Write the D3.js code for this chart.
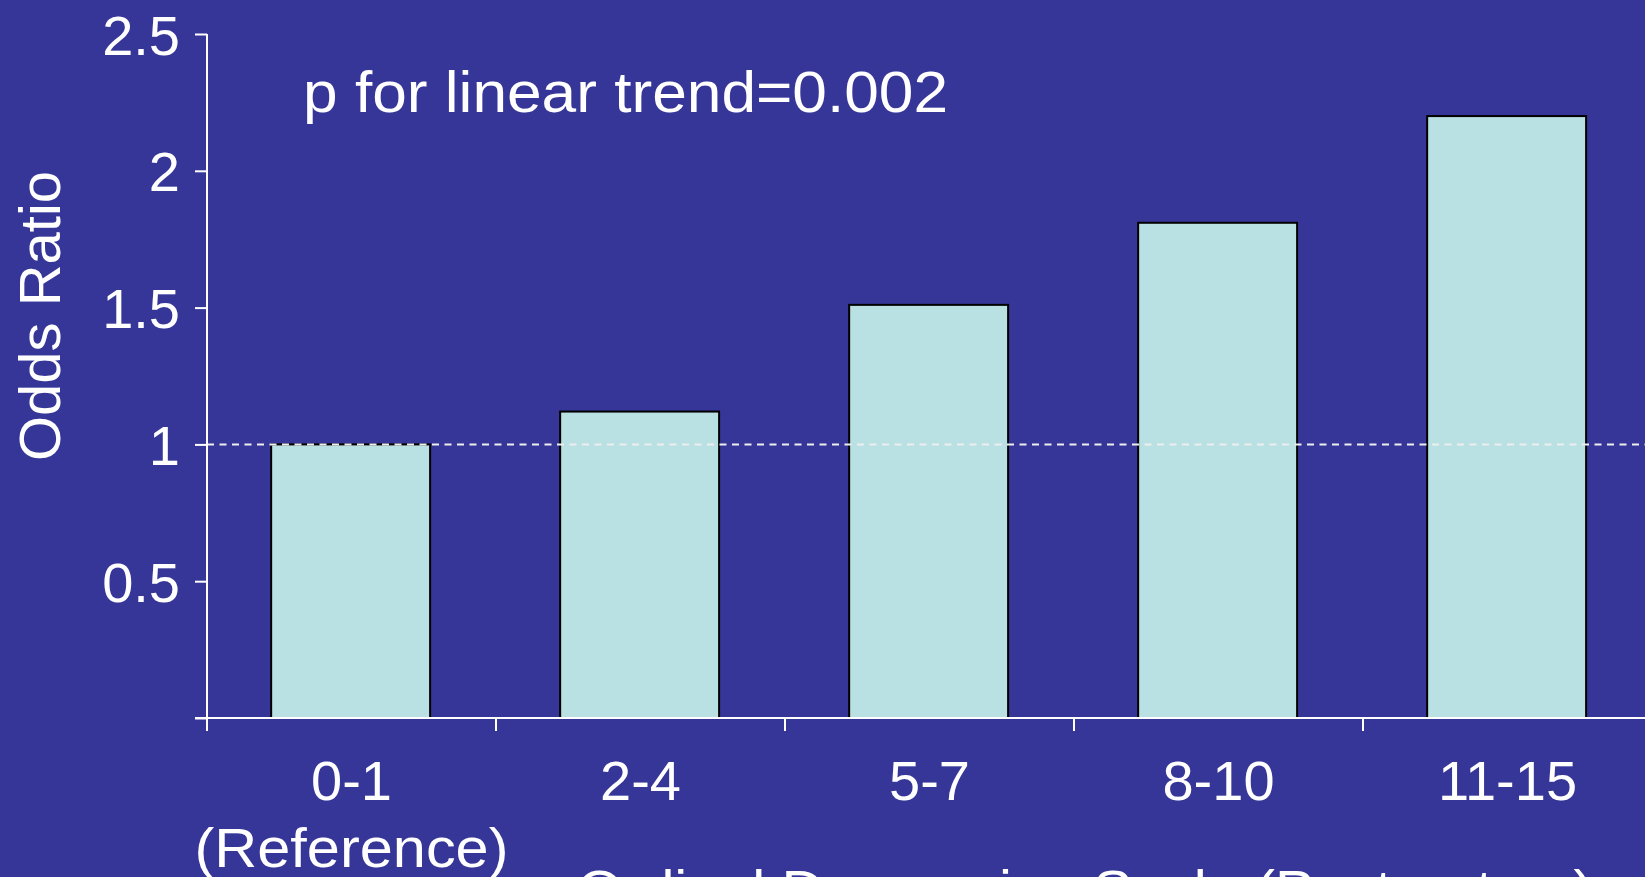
<!DOCTYPE html>
<html>
<head>
<meta charset="utf-8">
<script src="https://cdn.jsdelivr.net/npm/d3@7"></script>
<style>
  html, body { margin: 0; padding: 0; background: #363699; overflow: hidden; }
  svg { display: block; }
  text { font-family: "Liberation Sans", Arial, sans-serif; fill: #ffffff; }
</style>
</head>
<body>
<svg id="chart" width="1645" height="877"></svg>
<script>
// Odds ratio by postpartum depression score category
const categories = ["0-1", "2-4", "5-7", "8-10", "11-15"];
const oddsRatios = [1.0, 1.12, 1.51, 1.81, 2.2];
const subLabels = ["(Reference)", "", "", "", ""];
const yTicks = [0, 0.5, 1, 1.5, 2, 2.5];
const referenceValue = 1;
const trendNote = "p for linear trend=0.002";
const yTitle = "Odds Ratio";
const xTitle = "Ordinal Depression Scale (Postpartum)";

const W = 1645, H = 877;
const plotLeft = 207, plotRight = 1652, plotTop = 34, plotBottom = 718;

const svg = d3.select("#chart");
svg.append("rect").attr("width", W).attr("height", H).attr("fill", "#363699");

const x = d3.scaleBand().domain(categories).range([plotLeft, plotRight]).padding(0);
const y = d3.scaleLinear().domain([0, 2.5]).range([plotBottom, plotTop]);

// bars
const bw = x.bandwidth();
svg.append("g").selectAll("rect")
  .data(categories)
  .join("rect")
  .attr("x", (d) => x(d) + bw * 0.222)
  .attr("width", bw * 0.55)
  .attr("y", (d, i) => y(oddsRatios[i]))
  .attr("height", (d, i) => y(0) - y(oddsRatios[i]))
  .attr("fill", "#b9e0e2")
  .attr("stroke", "#000000")
  .attr("stroke-width", 2);

// dashed reference line at OR = 1
svg.append("line")
  .attr("x1", plotLeft).attr("x2", W)
  .attr("y1", y(referenceValue)).attr("y2", y(referenceValue))
  .attr("stroke", "#eeeeee")
  .attr("stroke-width", 2)
  .attr("stroke-dasharray", "7,5.5");

// y axis
const yAxis = svg.append("g")
  .attr("transform", `translate(${plotLeft},0)`)
  .call(d3.axisLeft(y).tickValues(yTicks).tickSize(12).tickPadding(15)
    .tickFormat((d) => d === 0 ? "" : d3.format("~g")(d)));
yAxis.select(".domain").remove();
yAxis.append("line")
  .attr("x1", 0).attr("x2", 0).attr("y1", plotTop).attr("y2", plotBottom)
  .attr("stroke", "#ffffff").attr("stroke-width", 2);
yAxis.selectAll(".tick line").attr("stroke", "#ffffff").attr("stroke-width", 2);
yAxis.selectAll(".tick text")
  .attr("fill", "#ffffff")
  .style("font-family", "'Liberation Sans', Arial, sans-serif")
  .style("font-size", "56px")
  .attr("dy", "0.36em");

// x axis: baseline, boundary ticks and category labels
const xAxis = svg.append("g").attr("transform", `translate(0,${plotBottom})`);
xAxis.append("line")
  .attr("x1", plotLeft - 12).attr("x2", W)
  .attr("y1", 0).attr("y2", 0)
  .attr("stroke", "#ffffff").attr("stroke-width", 2);
xAxis.selectAll("line.tk")
  .data(categories)
  .join("line")
  .attr("class", "tk")
  .attr("x1", (d) => x(d)).attr("x2", (d) => x(d))
  .attr("y1", 0).attr("y2", 13)
  .attr("stroke", "#ffffff").attr("stroke-width", 2);
xAxis.selectAll("text.cat")
  .data(categories)
  .join("text")
  .attr("class", "cat")
  .attr("x", (d) => x(d) + bw / 2)
  .attr("y", 82)
  .attr("text-anchor", "middle")
  .style("font-size", "56px")
  .text((d) => d);
xAxis.selectAll("text.sub")
  .data(categories.filter((d, i) => subLabels[i]))
  .join("text")
  .attr("class", "sub")
  .attr("x", (d) => x(d) + bw / 2)
  .attr("y", 149)
  .attr("text-anchor", "middle")
  .attr("textLength", 314)
  .attr("lengthAdjust", "spacingAndGlyphs")
  .style("font-size", "55px")
  .text((d) => subLabels[categories.indexOf(d)]);

// axis titles
svg.append("text")
  .attr("transform", `translate(60,316) rotate(-90)`)
  .attr("text-anchor", "middle")
  .style("font-size", "58px")
  .text(yTitle);

svg.append("text")
  .attr("x", 1085)
  .attr("y", 909)
  .attr("text-anchor", "middle")
  .attr("textLength", 1016)
  .attr("lengthAdjust", "spacingAndGlyphs")
  .style("font-size", "56px")
  .text(xTitle);

// trend annotation
svg.append("text")
  .attr("x", 303)
  .attr("y", 112)
  .attr("textLength", 645)
  .attr("lengthAdjust", "spacingAndGlyphs")
  .style("font-size", "57px")
  .text(trendNote);
</script>
</body>
</html>
